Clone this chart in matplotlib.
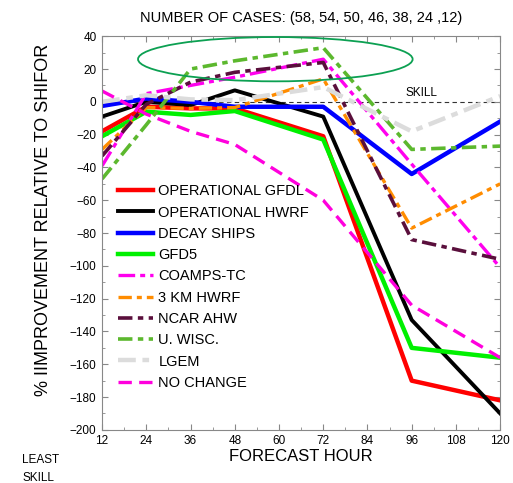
import matplotlib
matplotlib.use('Agg')
from matplotlib import pyplot as plt
from matplotlib.patches import Ellipse
from matplotlib.ticker import MultipleLocator

plt.rcParams['font.family'] = ['Liberation Sans', 'DejaVu Sans']
plt.rcParams['axes.unicode_minus'] = True

hours = [12, 24, 36, 48, 72, 96, 120]
n_cases = [58, 54, 50, 46, 38, 24, 12]

gfdl = [-18, -3, -4, -4, -21, -170, -182]
hwrf = [-9, 0, -2, 7, -9, -133, -190]
ships = [-2.5, 2, 0, -3, -3, -44, -12]
gfd5 = [-21, -6, -8, -5.6, -23, -150, -156]
coamps = [-39, 5, 10, 15, 26, -38, -101]
hwrf3km = [-29, -3.5, -4, -3.5, 14, -77, -50]
ahw = [-33, -1.5, 12, 18, 24, -84, -96]
uwisc = [-47, -14, 20, 25, 33, -29, -27]
lgem = [0, 4, 1.5, 1, 9, -18, 3.5]
nochange = [6.6, -7.5, -18, -26, -60, -124, -156]

series = [
    ('OPERATIONAL GFDL', gfdl, '#ff0000', '-', 3.2),
    ('OPERATIONAL HWRF', hwrf, '#000000', '-', 2.8),
    ('DECAY SHIPS', ships, '#0000ff', '-', 3.2),
    ('GFD5', gfd5, '#00f000', '-', 3.2),
    ('COAMPS-TC', coamps, '#ff00ee', (0, (5, 1.5, 1.5, 1.5)), 2.4),
    ('3 KM HWRF', hwrf3km, '#ff8c00', (0, (4, 1.5, 1.5, 1.5)), 2.4),
    ('NCAR AHW', ahw, '#5a0f3c', (0, (4, 1.5, 1.5, 1.5)), 2.6),
    ('U. WISC.', uwisc, '#5cb82e', (0, (4, 1.5, 1.5, 1.5)), 2.6),
    ('LGEM', lgem, '#dcdcdc', (0, (4, 1.5, 1.5, 1.5)), 3.2),
    ('NO CHANGE', nochange, '#ff00dd', (0, (4, 2.2)), 2.4),
]

fig = plt.figure(figsize=(5.13, 4.83), dpi=100)
ax = fig.add_axes([0.199, 0.110, 0.776, 0.815])

ax.axhline(0, color='#333333', lw=0.8, ls=(0, (4, 3)), zorder=1)

for name, vals, color, ls, lw in series:
    ax.plot(hours, vals, color=color, ls=ls, lw=lw, label=name, zorder=2)

ax.add_patch(Ellipse((59, 26), 74.5, 27, fill=False, ec='#0ca052', lw=1.3, zorder=3))

ax.text(98.6, 1.5, 'SKILL', fontsize=8.5, ha='center', va='bottom')

ax.set_xlim(12, 120)
ax.set_ylim(-200, 40)
ax.set_xticks(range(12, 121, 12))
ax.xaxis.set_minor_locator(MultipleLocator(6))
ax.yaxis.set_major_locator(MultipleLocator(20))
ax.yaxis.set_minor_locator(MultipleLocator(10))
ax.tick_params(which='both', direction='in', top=True, right=True, color='#888888', labelsize=8.5, pad=4)
ax.tick_params(which='major', length=4)
ax.tick_params(which='minor', length=2.5)
for sp in ax.spines.values():
    sp.set_color('#888888')
    sp.set_linewidth(0.8)

ax.set_xlabel('FORECAST HOUR', fontsize=12, labelpad=1)
ax.set_ylabel('% IIMPROVEMENT RELATIVE TO SHIFOR', fontsize=13)
ax.yaxis.set_label_coords(-0.126, 0.534)
ax.set_title('NUMBER OF CASES: (' + ', '.join(str(n) for n in n_cases[:-1]) + ' ,' + str(n_cases[-1]) + ')',
             fontsize=10.5, pad=10)

fig.text(0.043, 0.047, 'LEAST', fontsize=8.5, ha='left', va='center')
fig.text(0.043, 0.010, 'SKILL', fontsize=8.5, ha='left', va='center')

ax.legend(loc='upper left', bbox_to_anchor=(0.015, 0.65), frameon=False, fontsize=10.5,
          handlelength=2.35, handletextpad=0.4, labelspacing=0.5, borderaxespad=0.3)

fig.savefig('out.png', dpi=100)
